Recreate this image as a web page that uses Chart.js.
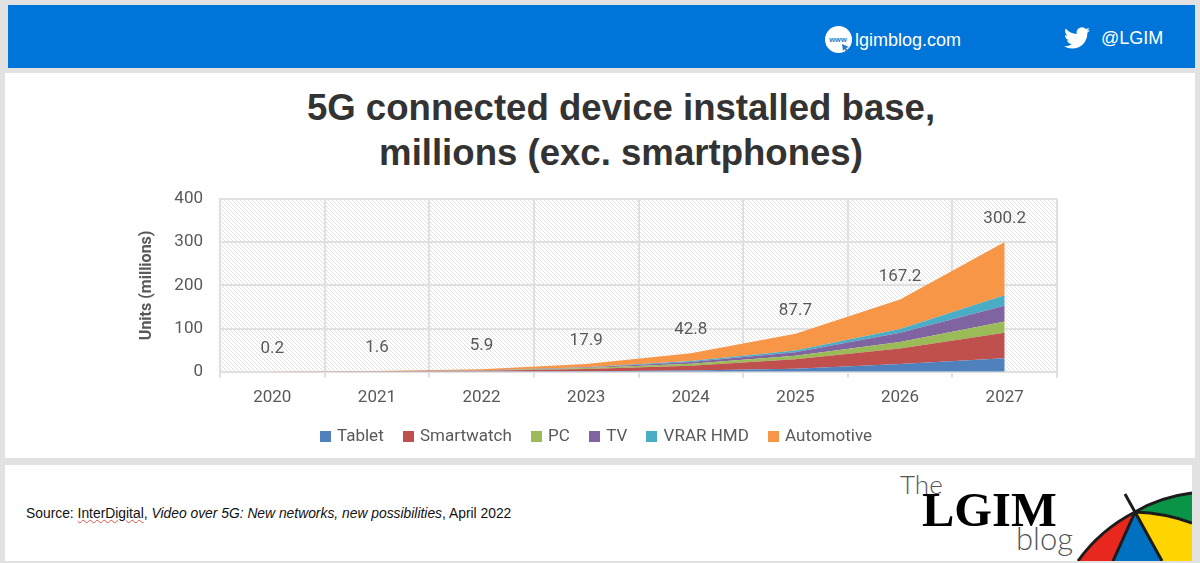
<!DOCTYPE html>
<html>
<head>
<meta charset="utf-8">
<title>5G connected device installed base</title>
<script src="https://cdn.jsdelivr.net/npm/chart.js@4/dist/chart.umd.min.js"></script>
<style>
  html, body { margin: 0; padding: 0; }
  body { width: 1200px; height: 563px; background: #e2e2e2; position: relative; overflow: hidden; font-family: "Liberation Sans", Arial, sans-serif; }
  .abs { position: absolute; white-space: nowrap; }
  #band { left: 8px; top: 5px; width: 1187px; height: 63px; background: #0075d9; }
  #panel { left: 5px; top: 73px; width: 1190px; height: 385px; background: #fff; }
  #foot { left: 5px; top: 465px; width: 1187px; height: 96px; background: #fff; overflow: hidden; }
  #graphique { position: absolute; left: 5px; top: 73px; filter: blur(0.4px); }
  h1 { position: absolute; margin: 0; left: 221px; top: 85px; width: 800px; text-align: center; font-size: 36.6px; line-height: 45px; font-weight: bold; color: #333; }
  .white { color: #fff; font-size: 18px; line-height: 20px; }
  #source { left: 26px; top: 505px; font-size: 13.85px; line-height: 17px; color: #111; }
  #source u { text-decoration: underline wavy #d9534f 1px; }
  #the { left: 900px; top: 468px; font: 300 26px Lato, sans-serif; color: #555; }
  #lgim { left: 922px; top: 482px; font: bold 48.5px "Liberation Serif", serif; color: #000; }
  #blog { left: 1016px; top: 519px; font: 300 31px Lato, sans-serif; color: #555; }
</style>
</head>
<body>
<div class="abs" id="band"></div>
<div class="abs" id="panel"></div>
<div class="abs" id="foot"></div>

<svg class="abs" style="left:825px;top:26px" width="28" height="28" viewBox="0 0 28 28">
  <circle cx="13.5" cy="13.5" r="13.5" fill="#fff"/>
  <text x="13" y="16" text-anchor="middle" font-size="7.5" font-weight="bold" fill="#2b78c8" font-family="Liberation Sans">www</text>
  <path d="M17 18l7 3-3 1 2 3-1.500 1-2-3-1.500 2z" fill="#2b78c8"/>
</svg>
<div class="abs white" id="site" style="left:855px;top:30px">lgimblog.com</div>
<svg class="abs" style="left:1064px;top:25px" width="26" height="26" viewBox="0 0 24 24">
  <path fill="#fff" d="M23.953 4.57a10 10 0 01-2.825.775 4.958 4.958 0 002.163-2.723c-.951.555-2.005.959-3.127 1.184a4.92 4.92 0 00-8.384 4.482C7.69 8.095 4.067 6.13 1.64 3.162a4.822 4.822 0 00-.666 2.475c0 1.71.87 3.213 2.188 4.096a4.904 4.904 0 01-2.228-.616v.06a4.923 4.923 0 003.946 4.827 4.996 4.996 0 01-2.212.085 4.936 4.936 0 004.604 3.417 9.867 9.867 0 01-6.102 2.105c-.39 0-.779-.023-1.17-.067a13.995 13.995 0 007.557 2.209c9.053 0 13.998-7.496 13.998-13.985 0-.21 0-.42-.015-.63A9.935 9.935 0 0024 4.59z"/>
</svg>
<div class="abs white" id="handle" style="left:1101px;top:28px">@LGIM</div>

<h1>5G connected device installed base,<br>millions (exc. smartphones)</h1>

<canvas id="graphique" width="1190" height="385"></canvas>

<div class="abs" id="source">Source: <u>InterDigital</u>, <i>Video over 5G: New networks, new possibilities</i>, April 2022</div>

<div class="abs" id="the">The</div>
<div class="abs" id="lgim">LGIM</div>
<div class="abs" id="blog">blog</div>
<svg class="abs" style="left:0;top:0" width="1192" height="561" viewBox="0 0 1192 561">
  <path d="M1078 561Q1100 530 1135 512L1113 561z" fill="#e8281e"/>
  <path d="M1135 512L1113 561H1162z" fill="#0070c0"/>
  <path d="M1135 512L1162 561H1192V523Q1165 513 1135 512z" fill="#ffd500"/>
  <path d="M1135 512Q1160 497 1192 493V523Q1165 513 1135 512z" fill="#0a9447"/>
  <g fill="none" stroke="#1c1c1c" stroke-width="3">
    <path d="M1078 561Q1100 530 1135 512Q1160 497 1192 493"/>
    <path d="M1125 494L1135 512L1113 561M1135 512L1162 561M1135 512Q1165 513 1192 523"/>
  </g>
</svg>

<script>
document.addEventListener("DOMContentLoaded", function () {
    const years = ["2020", "2021", "2022", "2023", "2024", "2025", "2026", "2027"];
    const tablet = [0, 0.05, 0.2, 0.8, 2.5, 7, 18, 31];
    const smartwatch = [0.05, 0.5, 2, 5.5, 11, 22, 36, 59];
    const pc = [0.02, 0.15, 0.6, 2, 5, 8, 15, 26];
    const tv = [0.01, 0.1, 0.4, 1.5, 4, 8, 21, 37];
    const vrar = [0.01, 0.05, 0.2, 0.6, 2, 4, 9, 24];
    const automotive = [0.11, 0.75, 2.5, 7.5, 18.3, 38.7, 68.2, 123.2];
    const totals = [0.2, 1.6, 5.9, 17.9, 42.8, 87.7, 167.2, 300.2];

    const textColor = "#595959";
    const gridColor = "#e0e0e0";

    // Hachures du fond, dessinées dans un petit canvas répété
    const hatch = document.createElement("canvas");
    hatch.width = 4;
    hatch.height = 4;
    const h = hatch.getContext("2d");
    h.strokeStyle = "#e2e2e2";
    h.lineWidth = 1;
    h.beginPath();
    h.moveTo(-1, -1); h.lineTo(5, 5);
    h.moveTo(-1, 3); h.lineTo(1, 5);
    h.moveTo(3, -1); h.lineTo(5, 1);
    h.stroke();

    const hatchPlugin = {
        id: "hatch",
        beforeDraw(chart) {
            const { ctx, chartArea: a } = chart;
            ctx.save();
            ctx.fillStyle = ctx.createPattern(hatch, "repeat");
            ctx.fillRect(a.left, a.top, a.right - a.left, a.bottom - a.top);
            ctx.restore();
        }
    };

    // Totaux au-dessus de chaque année
    const totalsPlugin = {
        id: "totals",
        afterDatasetsDraw(chart) {
            const { ctx, scales } = chart;
            ctx.save();
            ctx.font = "17px Roboto";
            ctx.fillStyle = textColor;
            ctx.textAlign = "center";
            ctx.textBaseline = "middle";
            totals.forEach((v, i) => {
                ctx.fillText(v.toFixed(1), scales.x.getPixelForValue(i), scales.y.getPixelForValue(v) - 23);
            });
            ctx.restore();
        }
    };

    // Petit carré de légende : image pour serrer le texte contre le carré
    const legendBox = (color) => {
        const c = document.createElement("canvas");
        c.width = 11;
        c.height = 11;
        const g = c.getContext("2d");
        g.fillStyle = color;
        g.fillRect(0, 0, 11, 11);
        return c;
    };

    const serie = (label, data, color, fill) => ({
        label, data, fill,
        backgroundColor: color,
        borderColor: color,
        borderWidth: 0,
        pointRadius: 0,
        pointStyle: legendBox(color),
        tension: 0
    });

    new Chart(document.getElementById("graphique").getContext("2d"), {
        type: "line",
        data: {
            labels: years,
            datasets: [
                serie("Tablet", tablet, "#4f81bd", "origin"),
                serie("Smartwatch", smartwatch, "#c0504d", "-1"),
                serie("PC", pc, "#9bbb59", "-1"),
                serie("TV", tv, "#8064a2", "-1"),
                serie("VRAR HMD", vrar, "#4bacc6", "-1"),
                serie("Automotive", automotive, "#f79646", "-1")
            ]
        },
        plugins: [hatchPlugin, totalsPlugin],
        options: {
            responsive: false,
            animation: false,
            layout: { padding: { left: 132, right: 138, top: 126, bottom: 3 } },
            plugins: {
                title: { display: false },
                tooltip: { enabled: false },
                legend: {
                    position: "bottom",
                    labels: { usePointStyle: true, pointStyleWidth: 6.5, boxHeight: 11, padding: 21.3, color: textColor, font: { family: "Roboto", size: 17 } }
                }
            },
            scales: {
                x: {
                    offset: true,
                    grid: { offset: true, color: gridColor, lineWidth: 2, tickLength: 6 },
                    border: { color: gridColor, width: 2 },
                    ticks: { color: textColor, font: { family: "Roboto", size: 17 }, padding: 10, maxRotation: 0 },
                    afterFit(s) { s.height = 35; }
                },
                y: {
                    stacked: true,
                    min: 0,
                    max: 400,
                    grid: { color: gridColor, lineWidth: 2, drawTicks: false },
                    border: { color: gridColor, width: 2 },
                    ticks: { stepSize: 100, color: textColor, font: { family: "Roboto", size: 17 }, padding: 17 },
                    title: { display: true, text: "Units (millions)", color: textColor, font: { family: "Roboto", size: 16, weight: "bold" }, padding: 0 },
                    afterFit(s) { s.width = 83; }
                }
            }
        }
    });
});
</script>
</body>
</html>
